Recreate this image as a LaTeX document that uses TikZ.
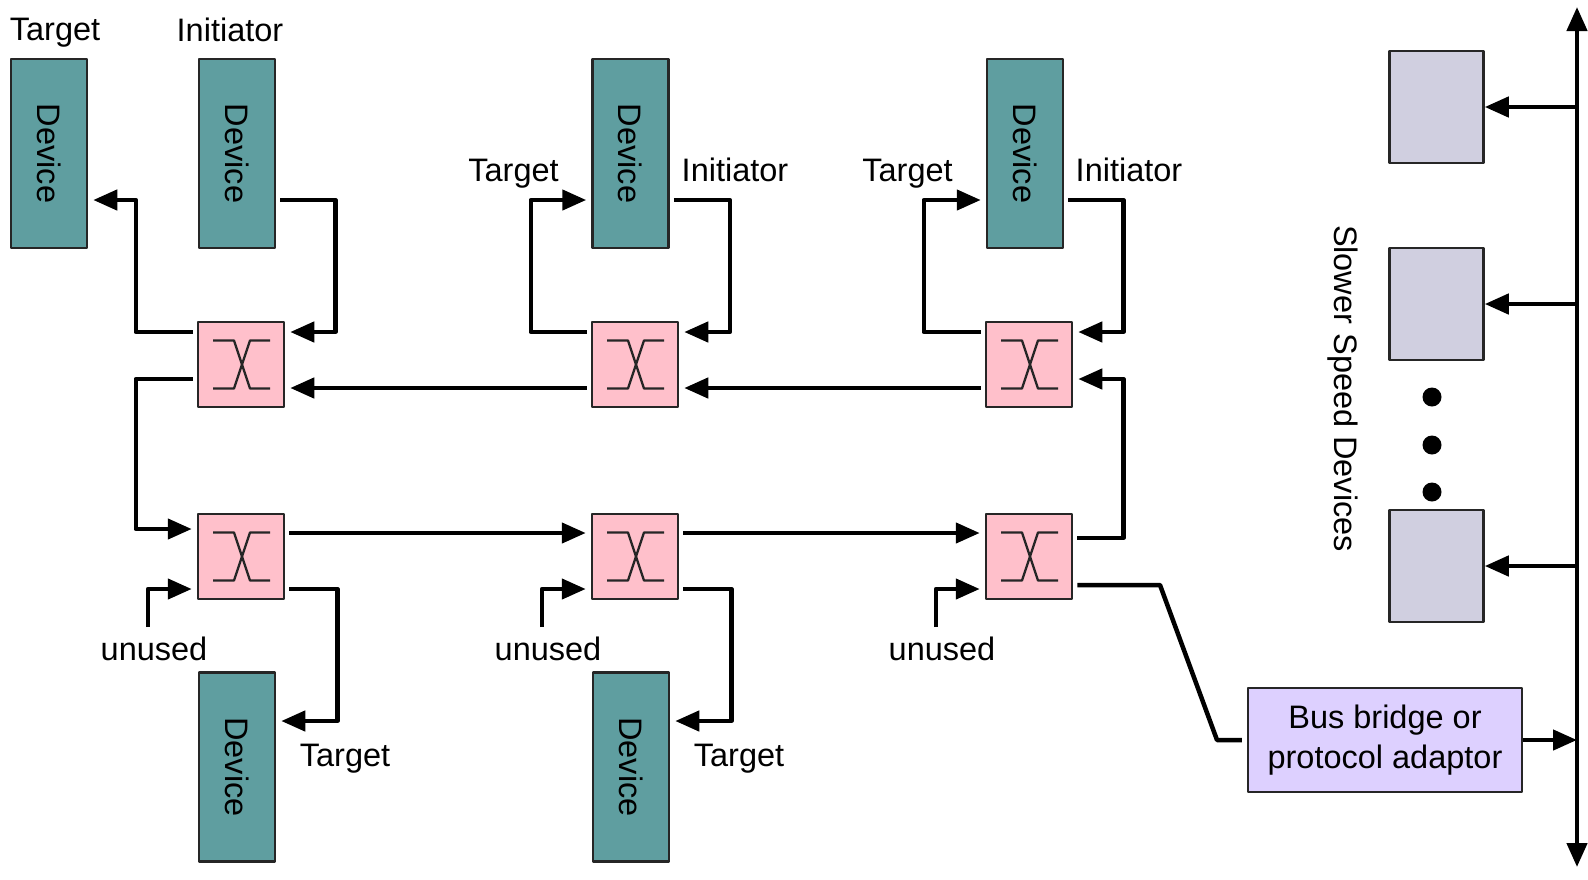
\documentclass[tikz,border=0pt]{standalone}
\usepackage{fontspec}
\setmainfont{Liberation Sans}
\usepackage{graphicx}
\usepackage[dvipsnames]{xcolor}
\usetikzlibrary{arrows.meta,positioning}

\definecolor{devteal}{RGB}{95,158,160}
\definecolor{swpink}{RGB}{255,192,203}
\definecolor{slowgray}{RGB}{208,207,224}
\definecolor{bridgeviolet}{RGB}{221,208,255}

\begin{document}
\begin{tikzpicture}[x=1pt,y=-1pt,>={Triangle[length=24pt,width=20pt]},line join=round,
    font=\fontsize{32.5}{40}\selectfont,
    device/.style={draw=black!85,line width=2.5pt,fill=devteal,minimum width=76pt,minimum height=189pt,inner sep=0pt},
    switch/.style={draw=black!85,line width=2.5pt,fill=swpink,minimum width=86pt,minimum height=85pt,inner sep=0pt,
        path picture={
            \draw[line width=2.3pt,shift={(path picture bounding box.center)}] (-28pt,24pt) -- (-7pt,24pt) -- (9pt,-24pt) -- (29pt,-24pt);
            \draw[line width=2.3pt,shift={(path picture bounding box.center)}] (-28pt,-24pt) -- (-7pt,-24pt) -- (9pt,24pt) -- (29pt,24pt);
        }},
    slow node/.style={draw=black!85,line width=2.5pt,fill=slowgray,minimum width=94pt,minimum height=112pt,inner sep=0pt},
    bridge node/.style={draw=black!85,line width=2.5pt,fill=bridgeviolet,minimum width=274pt,minimum height=104pt,align=center,inner sep=0pt},
    tag/.style={text depth=0pt},
    link/.style={line width=4.5pt,->,shorten >=5pt,shorten <=4pt},
    tap/.style={line width=4.5pt,->}]

    \useasboundingbox (0,0) rectangle (1588,879);

    % switches
    \node[switch] (7) at (241,364.5) {};
    \node[switch] (8) [node distance=394pt, right of = 7] {};
    \node[switch] (9) [node distance=394pt, right of = 8] {};
    \node[switch] (10) [node distance=192pt, below of = 7] {};
    \node[switch] (11) [node distance=192pt, below of = 8] {};
    \node[switch] (12) [node distance=192pt, below of = 9] {};

    % devices
    \node[device] (2) [node distance=211pt, above of = 7, xshift=-4pt] {\rotatebox{-90}{Device}};
    \node[device] (1) [node distance=188pt, left of = 2] {\rotatebox{-90}{Device}};
    \node[device] (3) [node distance=211pt, above of = 8, xshift=-4.5pt] {\rotatebox{-90}{Device}};
    \node[device] (4) [node distance=211pt, above of = 9, xshift=-4pt] {\rotatebox{-90}{Device}};
    \node[device] (5) [node distance=210.5pt, below of = 10, xshift=-4pt] {\rotatebox{-90}{Device}};
    \node[device] (6) [node distance=210.5pt, below of = 11, xshift=-4pt] {\rotatebox{-90}{Device}};

    % slower side
    \node[slow node] (13) at (1436.5,107) {};
    \node[slow node] (14) [node distance=197pt, below of = 13] {};
    \node[slow node] (15) [node distance=262pt, below of = 14] {};
    \node[bridge node] (16) at (1385,740) {Bus bridge or\\protocol adaptor};
    \foreach \y in {397,445,492}
        \fill (1432,\y) circle (9.5pt);

    % labels
    \node[tag] (l1) [node distance=124pt, above of = 1, xshift=6pt] {Target};
    \node[tag] (l2) [node distance=124pt, above of = 2, xshift=-7pt] {Initiator};
    \node[tag] (l3) [node distance=117pt, left of = 3, yshift=-16.5pt] {Target};
    \node[tag] (l4) [node distance=104.5pt, right of = 3, yshift=-16.5pt] {Initiator};
    \node[tag] (l5) [node distance=117.5pt, left of = 4, yshift=-16.5pt] {Target};
    \node[tag] (l6) [node distance=104pt, right of = 4, yshift=-16.5pt] {Initiator};
    \node[tag] (l7) [node distance=108pt, right of = 5, yshift=12pt] {Target};
    \node[tag] (l8) [node distance=108pt, right of = 6, yshift=12pt] {Target};
    \node[rotate=-90] (l9) at (1343,388.5) {Slower Speed Devices};

    \coordinate (u1) at (148,627);
    \coordinate (u2) at (542,627);
    \coordinate (u3) at (936,627);
    \node[tag] (l10) [below=6pt of u1, xshift=6pt] {unused};
    \node[tag] (l11) [below=6pt of u2, xshift=6pt] {unused};
    \node[tag] (l12) [below=6pt of u3, xshift=6pt] {unused};

    \coordinate (bt) at (1577,7);
    \coordinate (bb) at (1577,867);
    \coordinate (k1) at (1160,585);
    \coordinate (k2) at (1217,740);

    % top row
    \draw[link] ([yshift=32.5pt]7.west) -- ++(-61pt,0pt) |- ([yshift=-46.5pt]1.east);
    \draw[link] ([yshift=-46.5pt]2.east) -- ++(59pt,0pt) |- ([yshift=32.5pt]7.east);
    \draw[link] ([yshift=-14.5pt]7.west) -- ++(-61pt,0pt) |- ([yshift=27.5pt]10.west);
    \draw[link] ([yshift=-23.5pt]8.west) -- ([yshift=-23.5pt]7.east);
    \draw[link] ([yshift=-23.5pt]9.west) -- ([yshift=-23.5pt]8.east);
    \draw[link] ([yshift=32.5pt]8.west) -- ++(-60pt,0pt) |- ([yshift=-46.5pt]3.west);
    \draw[link] ([yshift=-46.5pt]3.east) -- ++(60pt,0pt) |- ([yshift=32.5pt]8.east);
    \draw[link] ([yshift=32.5pt]9.west) -- ++(-61pt,0pt) |- ([yshift=-46.5pt]4.west);
    \draw[link] ([yshift=-46.5pt]4.east) -- ++(59pt,0pt) |- ([yshift=32.5pt]9.east);
    \draw[link] ([yshift=18.5pt]12.east) -- ++(50pt,0pt) |- ([yshift=-14.5pt]9.east);

    % bottom row
    \draw[link] ([yshift=23.5pt]10.east) -- ([yshift=23.5pt]11.west);
    \draw[link] ([yshift=23.5pt]11.east) -- ([yshift=23.5pt]12.west);
    \draw[link, shorten <=0pt] (u1) |- ([yshift=-32.5pt]10.west);
    \draw[link, shorten <=0pt] (u2) |- ([yshift=-32.5pt]11.west);
    \draw[link, shorten <=0pt] (u3) |- ([yshift=-32.5pt]12.west);
    \draw[link] ([yshift=-32.5pt]10.east) -- ++(52pt,0pt) |- ([yshift=46pt]5.east);
    \draw[link] ([yshift=-32.5pt]11.east) -- ++(52pt,0pt) |- ([yshift=46pt]6.east);
    \draw[link, -] ([yshift=-28.5pt]12.east) -- (k1) -- (k2) -- (16.west);

    % bus
    \draw[tap, <->] (bb) -- (bt);
    \draw[tap] (13.east -| bt) -- (13.east);
    \draw[tap] (14.east -| bt) -- (14.east);
    \draw[tap] (15.east -| bt) -- (15.east);
    \draw[tap] (16.east) -- (16.east -| bt);

\end{tikzpicture}
\end{document}
